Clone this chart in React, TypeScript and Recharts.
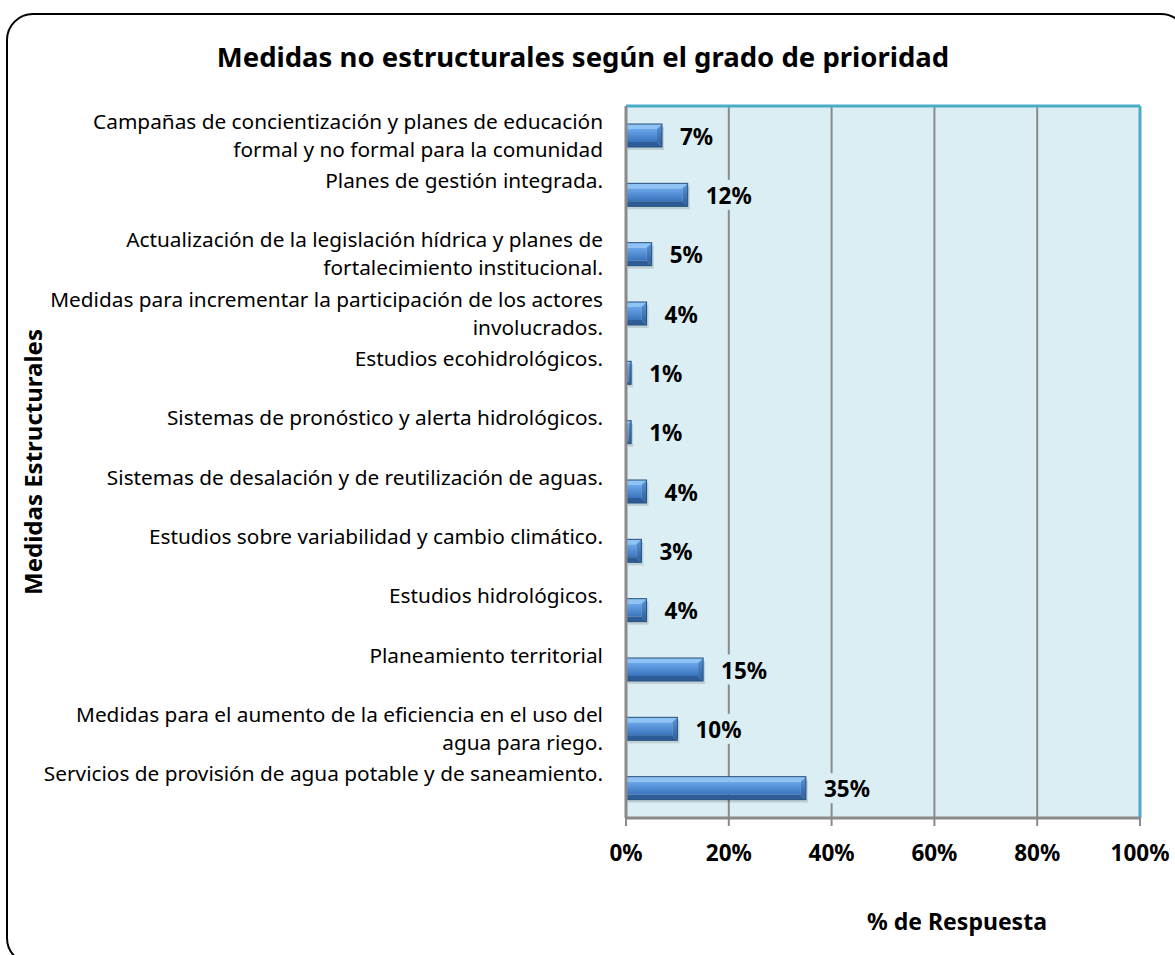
import { Bar, BarChart, CartesianGrid, Customized, LabelList, ReferenceLine, XAxis, YAxis } from "recharts";

// Excel-style horizontal bar chart; labels keep their trailing blank lines so they sit
// a little above the bar, as in the source workbook.
const categories = [
  "Campañas de concientización y planes de educación\nformal y no formal para la comunidad",
  "Planes de gestión integrada.\n",
  "Actualización de la legislación hídrica y planes de\nfortalecimiento institucional.",
  "Medidas para incrementar la participación de los actores\ninvolucrados.",
  "Estudios ecohidrológicos.\n",
  "Sistemas de pronóstico y alerta hidrológicos.\n",
  "Sistemas de desalación y de reutilización de aguas.\n",
  "Estudios sobre variabilidad y cambio climático.\n",
  "Estudios hidrológicos.\n",
  "Planeamiento territorial\n",
  "Medidas para el aumento de la eficiencia en el uso del\nagua para riego.",
  "Servicios de provisión de agua potable y de saneamiento.\n",
];
const values = [7, 12, 5, 4, 1, 1, 4, 3, 4, 15, 10, 35];
const xTicks = [0, 20, 40, 60, 80, 100];

const rows = categories.map((c, i) => ({ idx: i, name: c, value: values[i] }));

const W = 1175;
const H = 955;
const PLOT_LEFT = 626;
const PLOT_TOP = 106;
const PLOT_RIGHT = 1140;
const PLOT_BOTTOM = 818;
const BG = "#DAEEF3";
const GRID = "#8a8a8a";
const TEAL = "#4BACC6";
const FONT = "'Noto Sans', 'Open Sans', sans-serif";

function BevelBar(props: any) {
  const { x, y, width, height } = props;
  if (!width || width <= 0) return null;
  const b = Math.min(5, width / 2, height / 3);
  const r = x + width;
  const bt = y + height;
  return (
    <g>
      <rect x={x + 2} y={y + 3} width={width} height={height} fill="#000" opacity={0.12} />
      <rect x={x} y={y + b} width={width - b} height={height - 2 * b} fill="url(#barFace)" />
      <polygon points={`${x},${y} ${r},${y} ${r - b},${y + b} ${x},${y + b}`} fill="#8fc3f5" />
      <polygon points={`${x},${bt} ${r},${bt} ${r - b},${bt - b} ${x},${bt - b}`} fill="#2d5c96" />
      <polygon points={`${r},${y} ${r},${bt} ${r - b},${bt - b} ${r - b},${y + b}`} fill="url(#barSide)" />
      <rect x={x} y={y} width={width} height={height} fill="none" stroke="#24507f" strokeWidth={1} />
    </g>
  );
}

function ValueLabel(props: any) {
  const { x, y, width, height, value } = props;
  const tx = x + width + 18;
  const cy = y + height / 2;
  const txt = `${value}%`;
  const tw = txt.length * 14;
  return (
    <g>
      <rect x={tx - 3} y={cy - 15} width={tw + 6} height={30} fill={BG} />
      <text x={tx} y={cy + 9} fontFamily={FONT} fontWeight="bold" fontSize={22.5} fill="#000">
        {txt}
      </text>
    </g>
  );
}

function CategoryTick(props: any) {
  const { y, payload } = props;
  const lines = String(categories[payload.index] ?? payload.value).split("\n");
  const first = y - ((lines.length - 1) * 28) / 2;
  return (
    <text x={603} y={first + 7} textAnchor="end" fontFamily={FONT} fontSize={20.8} fill="#000">
      {lines.map((l, i) => (
        <tspan key={i} x={603} y={first + 7 + i * 28}>
          {l}
        </tspan>
      ))}
    </text>
  );
}

function PercentTick(props: any) {
  const { x, payload } = props;
  return (
    <text x={x} y={861} textAnchor="middle" fontFamily={FONT} fontWeight="bold" fontSize={22.5} fill="#000">
      {`${payload.value}%`}
    </text>
  );
}

function Decorations() {
  return (
    <g>
      <rect x={7} y={14} width={1180} height={950} rx={26} ry={26} fill="none" stroke="#000" strokeWidth={2} />
      <text x={583} y={67} textAnchor="middle" fontFamily={FONT} fontWeight="bold" fontSize={27.5} fill="#000">
        Medidas no estructurales según el grado de prioridad
      </text>
      <text
        x={32}
        y={462}
        transform="rotate(-90, 32, 462)"
        textAnchor="middle"
        dominantBaseline="central"
        fontFamily={FONT}
        fontWeight="bold"
        fontSize={24}
        fill="#000"
      >
        Medidas Estructurales
      </text>
      <text x={957} y={930} textAnchor="middle" fontFamily={FONT} fontWeight="bold" fontSize={23} fill="#000">
        % de Respuesta
      </text>
      <line x1={PLOT_LEFT} y1={PLOT_TOP} x2={PLOT_RIGHT} y2={PLOT_TOP} stroke={TEAL} strokeWidth={3} />
    </g>
  );
}

export default function App() {
  return (
    <div style={{ position: "absolute", left: 0, top: 0, width: W, height: H, background: "#fff" }}>
      <BarChart
        width={W}
        height={H}
        layout="vertical"
        data={rows}
        barCategoryGap={0}
        margin={{ top: PLOT_TOP, right: W - PLOT_RIGHT, bottom: H - PLOT_BOTTOM - 60, left: 0 }}
      >
        <defs>
          <linearGradient id="barFace" x1="0" y1="0" x2="0" y2="1">
            <stop offset="0%" stopColor="#6aa7ea" />
            <stop offset="100%" stopColor="#3a73bd" />
          </linearGradient>
          <linearGradient id="barSide" x1="0" y1="0" x2="0" y2="1">
            <stop offset="0%" stopColor="#5a95dc" />
            <stop offset="100%" stopColor="#2d5d99" />
          </linearGradient>
        </defs>
        <CartesianGrid horizontal={false} vertical fill={BG} stroke={GRID} strokeWidth={2} />
        <XAxis
          type="number"
          domain={[0, 100]}
          ticks={xTicks}
          interval={0}
          height={60}
          tick={<PercentTick />}
          tickSize={8}
          axisLine={{ stroke: GRID, strokeWidth: 3 }}
          tickLine={{ stroke: GRID, strokeWidth: 2 }}
        />
        <YAxis
          type="category"
          dataKey="name"
          width={PLOT_LEFT}
          interval={0}
          tick={<CategoryTick />}
          tickLine={false}
          axisLine={{ stroke: GRID, strokeWidth: 3 }}
        />
        <ReferenceLine x={100} stroke={TEAL} strokeWidth={3} />
        <Bar dataKey="value" barSize={23} shape={<BevelBar />} isAnimationActive={false}>
          <LabelList dataKey="value" content={<ValueLabel />} />
        </Bar>
        <Customized component={<Decorations />} />
      </BarChart>
    </div>
  );
}
